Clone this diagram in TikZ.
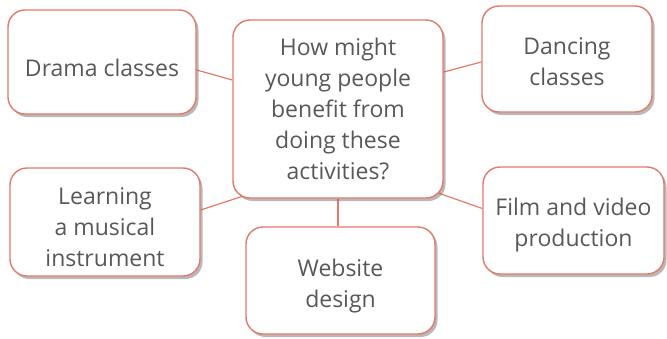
\documentclass[tikz,border=0pt]{standalone}
\usepackage{fontspec}
\setmainfont{Open Sans}
\usetikzlibrary{shadows,backgrounds,calc}
\definecolor{salmon}{RGB}{226,122,104}
\definecolor{txt}{RGB}{88,88,90}
\newcommand{\boxtext}[2][-4pt]{\raisebox{#1}[\height][\depth]{\begin{tabular}{@{}c@{}}#2\end{tabular}}}
\tikzset{
  box/.style={draw=salmon, line width=1.4pt, rounded corners=17pt, fill=white,
    text=txt, font=\fontsize{23}{31}\selectfont, inner sep=0pt,
    drop shadow={shadow xshift=2.5pt, shadow yshift=-3pt, opacity=0.5, fill=black!55}},
  link/.style={draw=salmon, line width=1.2pt}
}
\begin{document}
\begin{tikzpicture}[x=1pt,y=1pt]
\useasboundingbox (0,0) rectangle (667,-338);
\node[box, minimum width=188pt, minimum height=104pt] (drama) at (102,-62) {\boxtext[-8pt]{Drama classes}};
\node[box, minimum width=210pt, minimum height=178pt] (central) at (338,-109) {\boxtext[-2pt]{How might\\young people\\benefit from\\doing these\\activities?}};
\node[box, minimum width=170pt, minimum height=106pt] (dancing) at (567,-59) {\boxtext[-5pt]{Dancing\\classes}};
\node[box, minimum width=190pt, minimum height=108pt] (learning) at (105,-222) {\boxtext[-7pt]{Learning\\a musical\\instrument}};
\node[box, minimum width=181pt, minimum height=107pt] (film) at (573.5,-220.5) {\boxtext[-4pt]{Film and video\\production}};
\node[box, minimum width=189pt, minimum height=107pt] (website) at (340.5,-280.5) {\boxtext[-5pt]{Website\\design}};
\begin{scope}[on background layer]
\draw[link] ([yshift=-8pt]drama.east) -- ([yshift=29pt]central.west);
\draw[link] ([yshift=37pt]central.east) -- ([yshift=-3pt]dancing.west);
\draw[link] ([yshift=12pt]learning.east) -- ([xshift=15pt,yshift=4pt]central.south west);
\draw[link] ([xshift=-12pt,yshift=8pt]central.south east) -- ([yshift=12pt]film.west);
\draw[link] (central.south) -- (central.south |- website.north);
\end{scope}
\end{tikzpicture}
\end{document}
